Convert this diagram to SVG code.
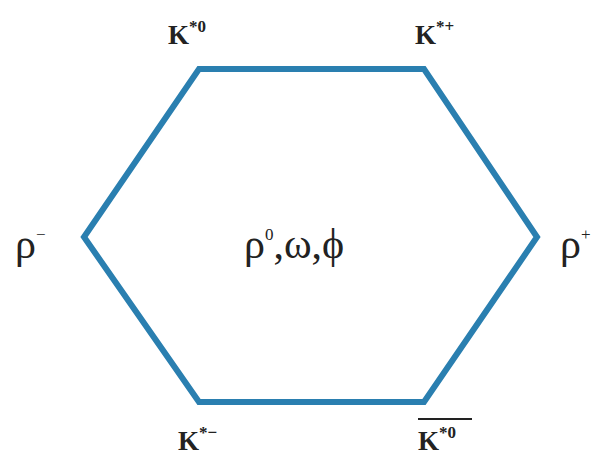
<svg xmlns="http://www.w3.org/2000/svg" width="599" height="462" viewBox="0 0 599 462">
<style>
.k{font-family:"Liberation Serif",serif;font-size:27px;font-weight:bold;fill:#222}
.r{font-family:"Liberation Serif",serif;font-size:42px;fill:#222}
.s{font-size:17px}
</style>
<rect width="599" height="462" fill="#fff"/>
<g id="connectors">
<polygon points="199,69 424,69 537,237 424,402 199,402 84,237" fill="none" stroke="#2a7fb0" stroke-width="6" stroke-linejoin="miter"/>
</g>
<g id="k0"><text class="k" x="168" y="44">K<tspan class="s" dy="-12">*0</tspan></text></g>
<g id="kplus"><text class="k" x="415" y="44">K<tspan class="s" dy="-12">*+</tspan></text></g>
<g id="rhominus"><text class="r" x="15" y="258">ρ<tspan class="s" dy="-18">−</tspan></text></g>
<g id="rhoplus"><text class="r" x="560" y="258">ρ<tspan class="s" dy="-18">+</tspan></text></g>
<g id="center"><text class="r" x="244" y="258">ρ<tspan class="s" dy="-18">0</tspan><tspan dy="18">,ω,ϕ</tspan></text></g>
<g id="kminus"><text class="k" x="178" y="450">K<tspan class="s" dy="-12">*−</tspan></text></g>
<g id="kbar0"><text class="k" x="418" y="450">K<tspan class="s" dy="-12">*0</tspan></text><line x1="418" y1="419" x2="472" y2="419" stroke="#222" stroke-width="2"/></g>
</svg>
